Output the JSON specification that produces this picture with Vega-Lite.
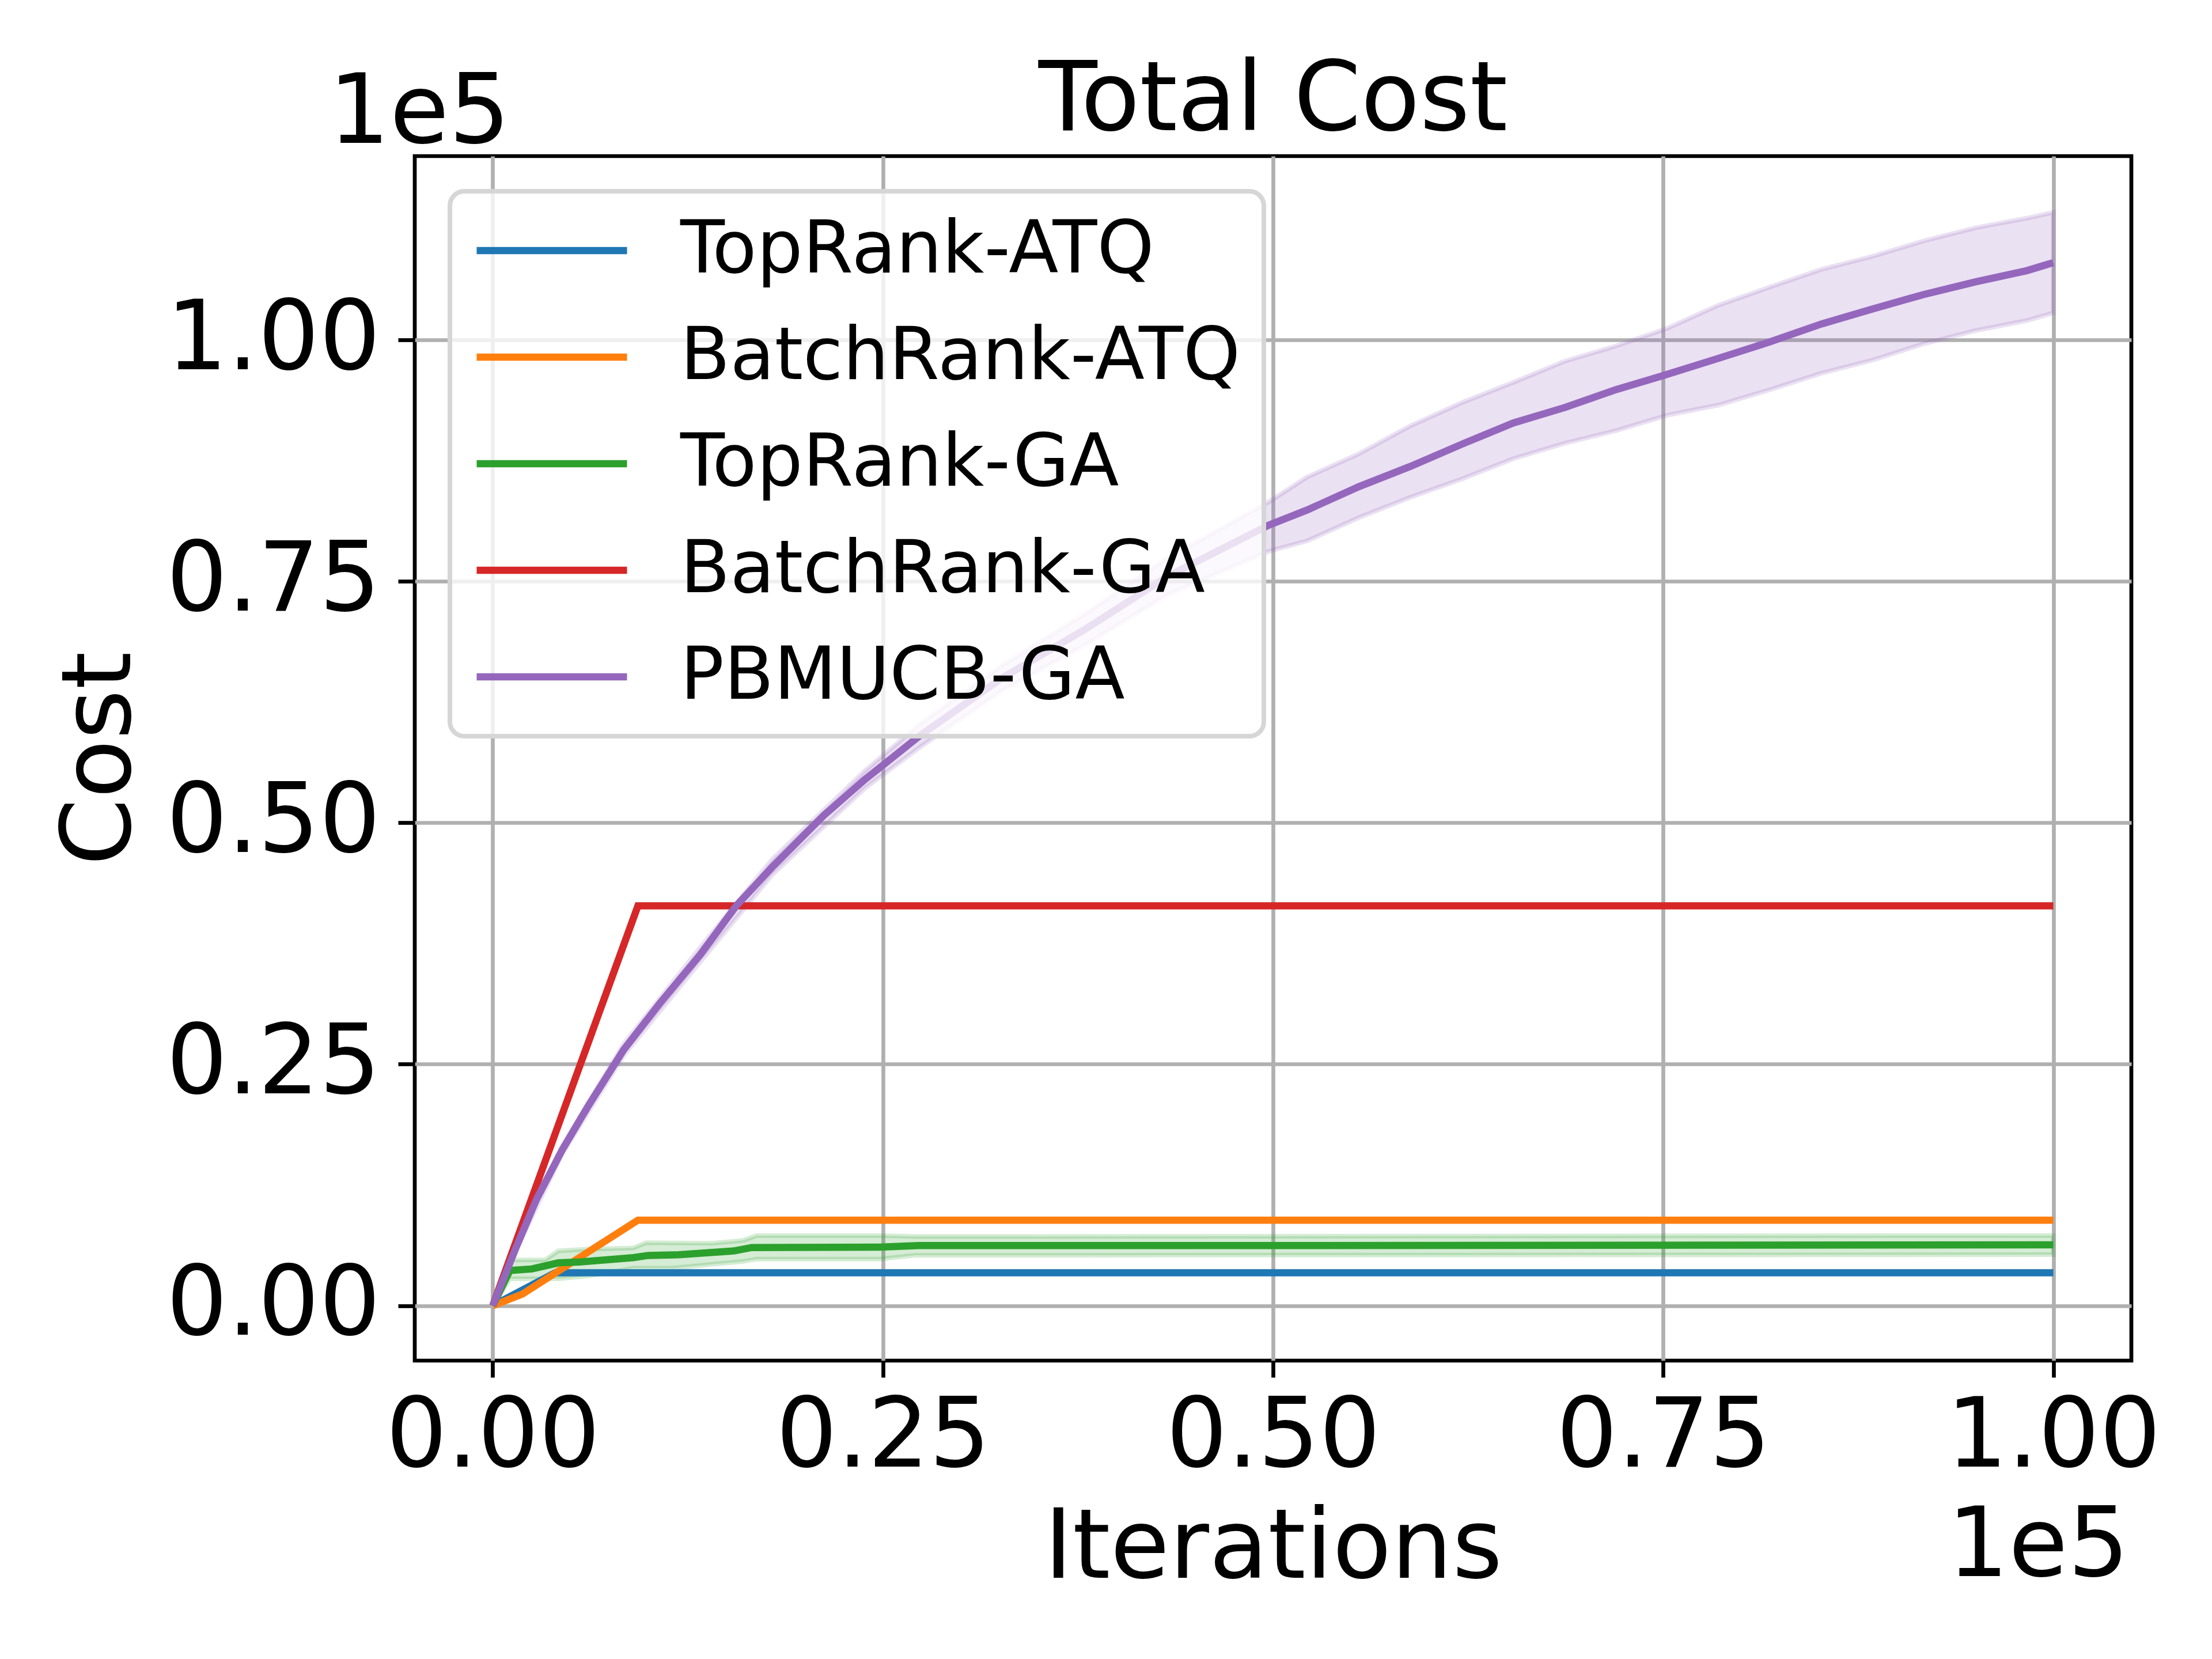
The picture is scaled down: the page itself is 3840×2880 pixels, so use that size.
{
  "$schema": "https://vega.github.io/schema/vega-lite/v6.json",
  "description": "Total cost against iterations for five ranking policies, with shaded spread bands.",
  "autosize": {"type": "none"},
  "width": 2980,
  "height": 2091,
  "padding": {"left": 720, "top": 271, "right": 140, "bottom": 518},
  "background": "white",
  "title": {
    "text": "Total Cost",
    "font": "DejaVu Sans",
    "fontSize": 167,
    "fontWeight": "normal",
    "color": "black",
    "anchor": "middle",
    "frame": "group",
    "offset": -147
  },
  "datasets": {
    "lines": [
      {"series": "TopRank-ATQ", "x": 0, "y": 0},
      {"series": "TopRank-ATQ", "x": 4000, "y": 3410},
      {"series": "TopRank-ATQ", "x": 100000, "y": 3410},
      {"series": "BatchRank-ATQ", "x": 0, "y": 0},
      {"series": "BatchRank-ATQ", "x": 1900, "y": 1200},
      {"series": "BatchRank-ATQ", "x": 9300, "y": 8850},
      {"series": "BatchRank-ATQ", "x": 100000, "y": 8850},
      {"series": "TopRank-GA", "x": 0, "y": 0},
      {"series": "TopRank-GA", "x": 1100, "y": 3650},
      {"series": "TopRank-GA", "x": 2500, "y": 3800},
      {"series": "TopRank-GA", "x": 4200, "y": 4430},
      {"series": "TopRank-GA", "x": 5600, "y": 4530},
      {"series": "TopRank-GA", "x": 9000, "y": 4970},
      {"series": "TopRank-GA", "x": 9960, "y": 5200},
      {"series": "TopRank-GA", "x": 11900, "y": 5270},
      {"series": "TopRank-GA", "x": 15450, "y": 5670},
      {"series": "TopRank-GA", "x": 16600, "y": 6020},
      {"series": "TopRank-GA", "x": 24800, "y": 6060},
      {"series": "TopRank-GA", "x": 27300, "y": 6220},
      {"series": "TopRank-GA", "x": 50000, "y": 6220},
      {"series": "TopRank-GA", "x": 72000, "y": 6250},
      {"series": "TopRank-GA", "x": 100000, "y": 6300},
      {"series": "BatchRank-GA", "x": 0, "y": 0},
      {"series": "BatchRank-GA", "x": 9300, "y": 41400},
      {"series": "BatchRank-GA", "x": 100000, "y": 41400},
      {"series": "PBMUCB-GA", "x": 0, "y": 0},
      {"series": "PBMUCB-GA", "x": 1480, "y": 5970},
      {"series": "PBMUCB-GA", "x": 2800, "y": 11000},
      {"series": "PBMUCB-GA", "x": 4440, "y": 16100},
      {"series": "PBMUCB-GA", "x": 6090, "y": 20600},
      {"series": "PBMUCB-GA", "x": 8390, "y": 26500},
      {"series": "PBMUCB-GA", "x": 10700, "y": 31300},
      {"series": "PBMUCB-GA", "x": 13300, "y": 36350},
      {"series": "PBMUCB-GA", "x": 15600, "y": 41400},
      {"series": "PBMUCB-GA", "x": 17900, "y": 45400},
      {"series": "PBMUCB-GA", "x": 21200, "y": 50750},
      {"series": "PBMUCB-GA", "x": 23860, "y": 54500},
      {"series": "PBMUCB-GA", "x": 26500, "y": 57900},
      {"series": "PBMUCB-GA", "x": 27350, "y": 59000},
      {"series": "PBMUCB-GA", "x": 32640, "y": 65000},
      {"series": "PBMUCB-GA", "x": 37930, "y": 70000},
      {"series": "PBMUCB-GA", "x": 43230, "y": 75500},
      {"series": "PBMUCB-GA", "x": 49700, "y": 80800},
      {"series": "PBMUCB-GA", "x": 52200, "y": 82400},
      {"series": "PBMUCB-GA", "x": 55500, "y": 84800},
      {"series": "PBMUCB-GA", "x": 58800, "y": 86900},
      {"series": "PBMUCB-GA", "x": 62100, "y": 89200},
      {"series": "PBMUCB-GA", "x": 65400, "y": 91400},
      {"series": "PBMUCB-GA", "x": 68700, "y": 93000},
      {"series": "PBMUCB-GA", "x": 71970, "y": 94850},
      {"series": "PBMUCB-GA", "x": 75000, "y": 96300},
      {"series": "PBMUCB-GA", "x": 78560, "y": 98100},
      {"series": "PBMUCB-GA", "x": 81850, "y": 99800},
      {"series": "PBMUCB-GA", "x": 85140, "y": 101650},
      {"series": "PBMUCB-GA", "x": 88400, "y": 103200},
      {"series": "PBMUCB-GA", "x": 91700, "y": 104700},
      {"series": "PBMUCB-GA", "x": 95000, "y": 106000},
      {"series": "PBMUCB-GA", "x": 98300, "y": 107170},
      {"series": "PBMUCB-GA", "x": 100000, "y": 108000}
    ],
    "bands": [
      {"series": "TopRank-GA", "x": 0, "lo": 0, "hi": 0},
      {"series": "TopRank-GA", "x": 1100, "lo": 2780, "hi": 4730},
      {"series": "TopRank-GA", "x": 3350, "lo": 2780, "hi": 4730},
      {"series": "TopRank-GA", "x": 4200, "lo": 2780, "hi": 5670},
      {"series": "TopRank-GA", "x": 6170, "lo": 3080, "hi": 5870},
      {"series": "TopRank-GA", "x": 8990, "lo": 3880, "hi": 5970},
      {"series": "TopRank-GA", "x": 9840, "lo": 3880, "hi": 6520},
      {"series": "TopRank-GA", "x": 11530, "lo": 3880, "hi": 6500},
      {"series": "TopRank-GA", "x": 14070, "lo": 4280, "hi": 6460},
      {"series": "TopRank-GA", "x": 16050, "lo": 4580, "hi": 6760},
      {"series": "TopRank-GA", "x": 16900, "lo": 4830, "hi": 7260},
      {"series": "TopRank-GA", "x": 24800, "lo": 4830, "hi": 7260},
      {"series": "TopRank-GA", "x": 27050, "lo": 5210, "hi": 7160},
      {"series": "TopRank-GA", "x": 100000, "lo": 5280, "hi": 7260},
      {"series": "PBMUCB-GA", "x": 0, "lo": 0, "hi": 0},
      {"series": "PBMUCB-GA", "x": 1480, "lo": 5700, "hi": 6200},
      {"series": "PBMUCB-GA", "x": 4440, "lo": 15700, "hi": 16500},
      {"series": "PBMUCB-GA", "x": 8390, "lo": 25900, "hi": 27100},
      {"series": "PBMUCB-GA", "x": 13300, "lo": 35600, "hi": 37100},
      {"series": "PBMUCB-GA", "x": 17900, "lo": 44600, "hi": 46200},
      {"series": "PBMUCB-GA", "x": 23860, "lo": 53600, "hi": 55400},
      {"series": "PBMUCB-GA", "x": 27350, "lo": 57800, "hi": 60200},
      {"series": "PBMUCB-GA", "x": 32640, "lo": 63700, "hi": 66300},
      {"series": "PBMUCB-GA", "x": 37930, "lo": 68400, "hi": 71600},
      {"series": "PBMUCB-GA", "x": 43230, "lo": 73600, "hi": 77400},
      {"series": "PBMUCB-GA", "x": 49700, "lo": 78100, "hi": 83200},
      {"series": "PBMUCB-GA", "x": 52200, "lo": 79200, "hi": 85800},
      {"series": "PBMUCB-GA", "x": 55500, "lo": 81600, "hi": 88200},
      {"series": "PBMUCB-GA", "x": 58800, "lo": 83700, "hi": 91100},
      {"series": "PBMUCB-GA", "x": 62100, "lo": 85600, "hi": 93500},
      {"series": "PBMUCB-GA", "x": 65400, "lo": 87700, "hi": 95600},
      {"series": "PBMUCB-GA", "x": 68700, "lo": 89300, "hi": 97800},
      {"series": "PBMUCB-GA", "x": 71970, "lo": 90600, "hi": 99360},
      {"series": "PBMUCB-GA", "x": 75260, "lo": 92200, "hi": 101200},
      {"series": "PBMUCB-GA", "x": 78560, "lo": 93260, "hi": 103600},
      {"series": "PBMUCB-GA", "x": 81850, "lo": 94850, "hi": 105470},
      {"series": "PBMUCB-GA", "x": 85140, "lo": 96550, "hi": 107300},
      {"series": "PBMUCB-GA", "x": 88400, "lo": 97900, "hi": 108650},
      {"series": "PBMUCB-GA", "x": 91700, "lo": 99600, "hi": 110250},
      {"series": "PBMUCB-GA", "x": 95000, "lo": 100960, "hi": 111600},
      {"series": "PBMUCB-GA", "x": 98300, "lo": 102000, "hi": 112600},
      {"series": "PBMUCB-GA", "x": 100000, "lo": 102800, "hi": 113200}
    ]
  },
  "layer": [
    {
      "data": {"name": "bands"},
      "mark": {"type": "area", "fillOpacity": 0.2, "strokeOpacity": 0.2, "strokeWidth": 8},
      "encoding": {
        "x": {
          "field": "x",
          "type": "quantitative",
          "scale": {"domain": [-5000, 105000], "nice": false, "zero": false},
          "axis": {
            "title": "Iterations",
            "values": [0, 25000, 50000, 75000, 100000],
            "labelExpr": "format(datum.value / 100000, '.2f')"
          }
        },
        "y": {
          "field": "lo",
          "type": "quantitative",
          "scale": {"domain": [-5690, 119030], "nice": false, "zero": false},
          "axis": {
            "title": "Cost",
            "titleX": -495,
            "titleBaseline": "alphabetic",
            "values": [0, 25000, 50000, 75000, 100000],
            "labelExpr": "format(datum.value / 100000, '.2f')"
          }
        },
        "y2": {"field": "hi"},
        "fill": {
          "field": "series",
          "type": "nominal",
          "scale": {"domain": ["TopRank-GA", "PBMUCB-GA"], "range": ["#2ca02c", "#9467bd"]},
          "legend": null
        },
        "stroke": {
          "field": "series",
          "type": "nominal",
          "scale": {"domain": ["TopRank-GA", "PBMUCB-GA"], "range": ["#2ca02c", "#9467bd"]},
          "legend": null
        }
      }
    },
    {
      "data": {"name": "lines"},
      "mark": {"type": "line", "strokeWidth": 12.5},
      "encoding": {
        "x": {"field": "x", "type": "quantitative", "scale": {"domain": [-5000, 105000], "nice": false, "zero": false}},
        "y": {"field": "y", "type": "quantitative", "scale": {"domain": [-5690, 119030], "nice": false, "zero": false}},
        "color": {
          "field": "series",
          "type": "nominal",
          "scale": {
            "domain": ["TopRank-ATQ", "BatchRank-ATQ", "TopRank-GA", "BatchRank-GA", "PBMUCB-GA"],
            "range": ["#1f77b4", "#ff7f0e", "#2ca02c", "#d62728", "#9467bd"]
          },
          "legend": {"title": null}
        }
      }
    },
    {
      "data": {"values": [{"t": "1e5"}]},
      "mark": {"type": "text", "align": "center", "baseline": "alphabetic", "dx": 8, "dy": -23, "fontSize": 167, "font": "DejaVu Sans", "color": "black"},
      "encoding": {
        "x": {"datum": -5000, "type": "quantitative"},
        "y": {"datum": 119030, "type": "quantitative"},
        "text": {"field": "t"}
      }
    },
    {
      "data": {"values": [{"t": "1e5"}]},
      "mark": {"type": "text", "align": "right", "baseline": "alphabetic", "dx": -4, "dy": 374, "fontSize": 167, "font": "DejaVu Sans", "color": "black"},
      "encoding": {
        "x": {"datum": 105000, "type": "quantitative"},
        "y": {"datum": -5690, "type": "quantitative"},
        "text": {"field": "t"}
      }
    }
  ],
  "config": {
    "font": "DejaVu Sans",
    "view": {"stroke": "black", "strokeWidth": 6.7, "fill": "white"},
    "axis": {
      "labelFont": "DejaVu Sans",
      "labelFontSize": 167,
      "labelColor": "black",
      "labelLimit": 2000,
      "labelFlush": false,
      "labelOverlap": false,
      "titleFont": "DejaVu Sans",
      "titleFontSize": 167,
      "titleFontWeight": "normal",
      "titleColor": "black",
      "titleLimit": 3000,
      "tickColor": "black",
      "tickWidth": 6.7,
      "tickSize": 29,
      "domain": false,
      "grid": true,
      "gridColor": "#b0b0b0",
      "gridWidth": 6.7
    },
    "axisX": {"labelPadding": 22, "titlePadding": 44},
    "axisY": {"labelPadding": 31},
    "legend": {
      "orient": "top-left",
      "offset": 61,
      "padding": 40,
      "fillColor": "rgba(255,255,255,0.8)",
      "strokeColor": "#d6d6d6",
      "strokeWidth": 8,
      "cornerRadius": 25,
      "symbolType": "stroke",
      "symbolSize": 68121,
      "symbolStrokeWidth": 12.5,
      "labelFont": "DejaVu Sans",
      "labelFontSize": 126,
      "labelColor": "black",
      "labelOffset": 86,
      "labelLimit": 3000,
      "rowPadding": 59,
      "clipHeight": 126
    }
  }
}
